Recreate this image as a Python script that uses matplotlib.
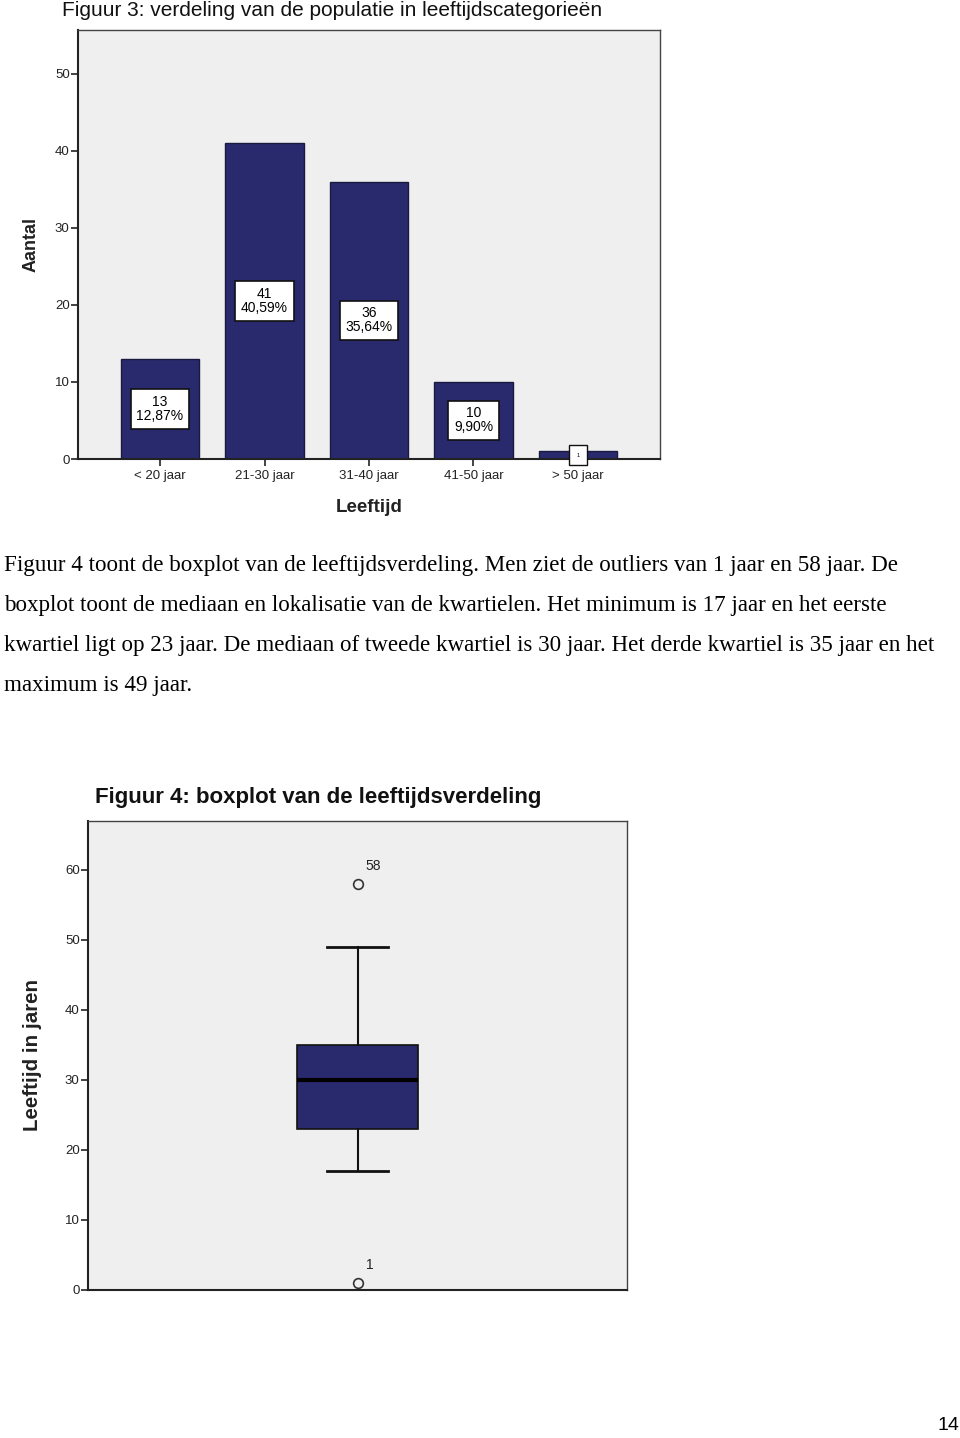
import matplotlib
matplotlib.use("Agg")
import matplotlib.pyplot as plt

# ----------------------------------------
# Data
# ----------------------------------------
categories = ["< 20 jaar", "21-30 jaar", "31-40 jaar", "41-50 jaar", "> 50 jaar"]
counts = [13, 41, 36, 10, 1]
y_ticks_bar = [0, 10, 20, 30, 40, 50]

# boxplot summary (leeftijd in jaren)
age_min = 17
age_q1 = 23
age_median = 30
age_q3 = 35
age_max = 49
outliers = [1, 58]
outlier_labels = ["1", "58"]
y_ticks_box = [0, 10, 20, 30, 40, 50, 60]

paragraph = [
    "Figuur 4 toont de boxplot van de leeftijdsverdeling. Men ziet de outliers van 1 jaar en 58 jaar. De",
    "boxplot toont de mediaan en lokalisatie van de kwartielen. Het minimum is 17 jaar en het eerste",
    "kwartiel ligt op 23 jaar. De mediaan of tweede kwartiel is 30 jaar. Het derde kwartiel is 35 jaar en het",
    "maximum is 49 jaar.",
]

NAVY = "#29296e"
PANEL = "#efefef"
W, H = 960, 1438

plt.rcParams["font.family"] = ["Liberation Sans", "DejaVu Sans"]

fig = plt.figure(figsize=(W / 100, H / 100), dpi=100)


def frac_box(x0, y0, x1, y1):
    # pixel box (top-left origin) -> figure fraction rect
    return [x0 / W, 1 - y1 / H, (x1 - x0) / W, (y1 - y0) / H]


def style_axes(ax):
    ax.set_facecolor(PANEL)
    for side in ["top", "right"]:
        ax.spines[side].set_color("#444444")
        ax.spines[side].set_linewidth(1.0)
    for side in ["left", "bottom"]:
        ax.spines[side].set_color("#222222")
        ax.spines[side].set_linewidth(1.5)
    ax.tick_params(axis="both", direction="out", length=5, width=1.2,
                   labelsize=9.5, colors="#222222", pad=1)


# ----------------------------------------
# Figuur 3: bar chart
# ----------------------------------------
ax1 = fig.add_axes(frac_box(78, 30, 660, 459))
style_axes(ax1)
x = list(range(len(categories)))
bars = ax1.bar(x, counts, width=0.755, color=NAVY, edgecolor="#1a1a40", linewidth=1.0)
ax1.set_xlim(-0.785, len(categories) - 1 + 0.785)
ax1.set_ylim(0, 55.7)
ax1.set_yticks(y_ticks_bar)
ax1.set_xticks(x)
ax1.set_xticklabels(categories, fontsize=9.5)
ax1.tick_params(axis="x", pad=3)

total = sum(counts)
for xi, c in zip(x, counts):
    pct = f"{100 * c / total:.2f}".replace(".", ",")
    if c >= 5:
        ax1.text(xi, c / 2, f"{c}\n{pct}%", ha="center", va="center", fontsize=10,
                 linespacing=1.0,
                 bbox=dict(boxstyle="square,pad=0.42", facecolor="white",
                           edgecolor="#111111", linewidth=1.2))
    else:
        ax1.text(xi, c / 2, f"{c}", ha="center", va="center", fontsize=4,
                 clip_on=False,
                 bbox=dict(boxstyle="square,pad=1.4", facecolor="white",
                           edgecolor="#111111", linewidth=1.0))

fig.text(62 / W, 1 - 10 / H, "Figuur 3: verdeling van de populatie in leeftijdscategorieën",
         ha="left", va="center", fontsize=15, color="#111111")
fig.text(369 / W, 1 - 508 / H, "Leeftijd", ha="center", va="center",
         fontsize=13.5, fontweight="bold", color="#222222")
fig.text(31 / W, 1 - 245 / H, "Aantal", ha="center", va="center", rotation=90,
         fontsize=13, fontweight="bold", color="#222222")

# ----------------------------------------
# Tekst
# ----------------------------------------
for i, line in enumerate(paragraph):
    fig.text(4 / W, 1 - (566 + 40 * i) / H, line, ha="left", va="center",
             fontsize=16.6, family=["Liberation Serif", "DejaVu Serif"], color="black")

# ----------------------------------------
# Figuur 4: boxplot
# ----------------------------------------
ax2 = fig.add_axes(frac_box(88, 821, 627, 1290))
style_axes(ax2)
stats = [dict(whislo=age_min, q1=age_q1, med=age_median, q3=age_q3,
              whishi=age_max, fliers=outliers)]
ax2.bxp(stats, positions=[0], widths=0.449, patch_artist=True,
        boxprops=dict(facecolor=NAVY, edgecolor="#111111", linewidth=1.2),
        medianprops=dict(color="black", linewidth=3),
        whiskerprops=dict(color="#111111", linewidth=1.5),
        capprops=dict(color="#111111", linewidth=2),
        capwidths=0.223,
        flierprops=dict(marker="o", markersize=7, markerfacecolor="none",
                        markeredgecolor="#333333", markeredgewidth=1.2))
ax2.set_xlim(-1, 1)
ax2.set_ylim(0, 67)
ax2.set_yticks(y_ticks_box)
ax2.set_xticks([])
ax2.tick_params(axis="x", length=0)

for val, lab in zip(outliers, outlier_labels):
    ax2.annotate(lab, xy=(0, val), xytext=(6, 8), textcoords="offset points",
                 ha="left", va="bottom", fontsize=10, color="#222222")

fig.text(95 / W, 1 - 797 / H, "Figuur 4: boxplot van de leeftijdsverdeling",
         ha="left", va="center", fontsize=16, fontweight="bold", color="#111111")
fig.text(33 / W, 1 - 1055 / H, "Leeftijd in jaren", ha="center", va="center", rotation=90,
         fontsize=14.8, fontweight="bold", color="#222222")

# page number
fig.text(948 / W, 1 - 1426 / H, "14", ha="center", va="center", fontsize=14,
         family=["Liberation Sans", "DejaVu Sans"])

fig.savefig("out.png", dpi=100)
print("Saved plot to: out.png")
